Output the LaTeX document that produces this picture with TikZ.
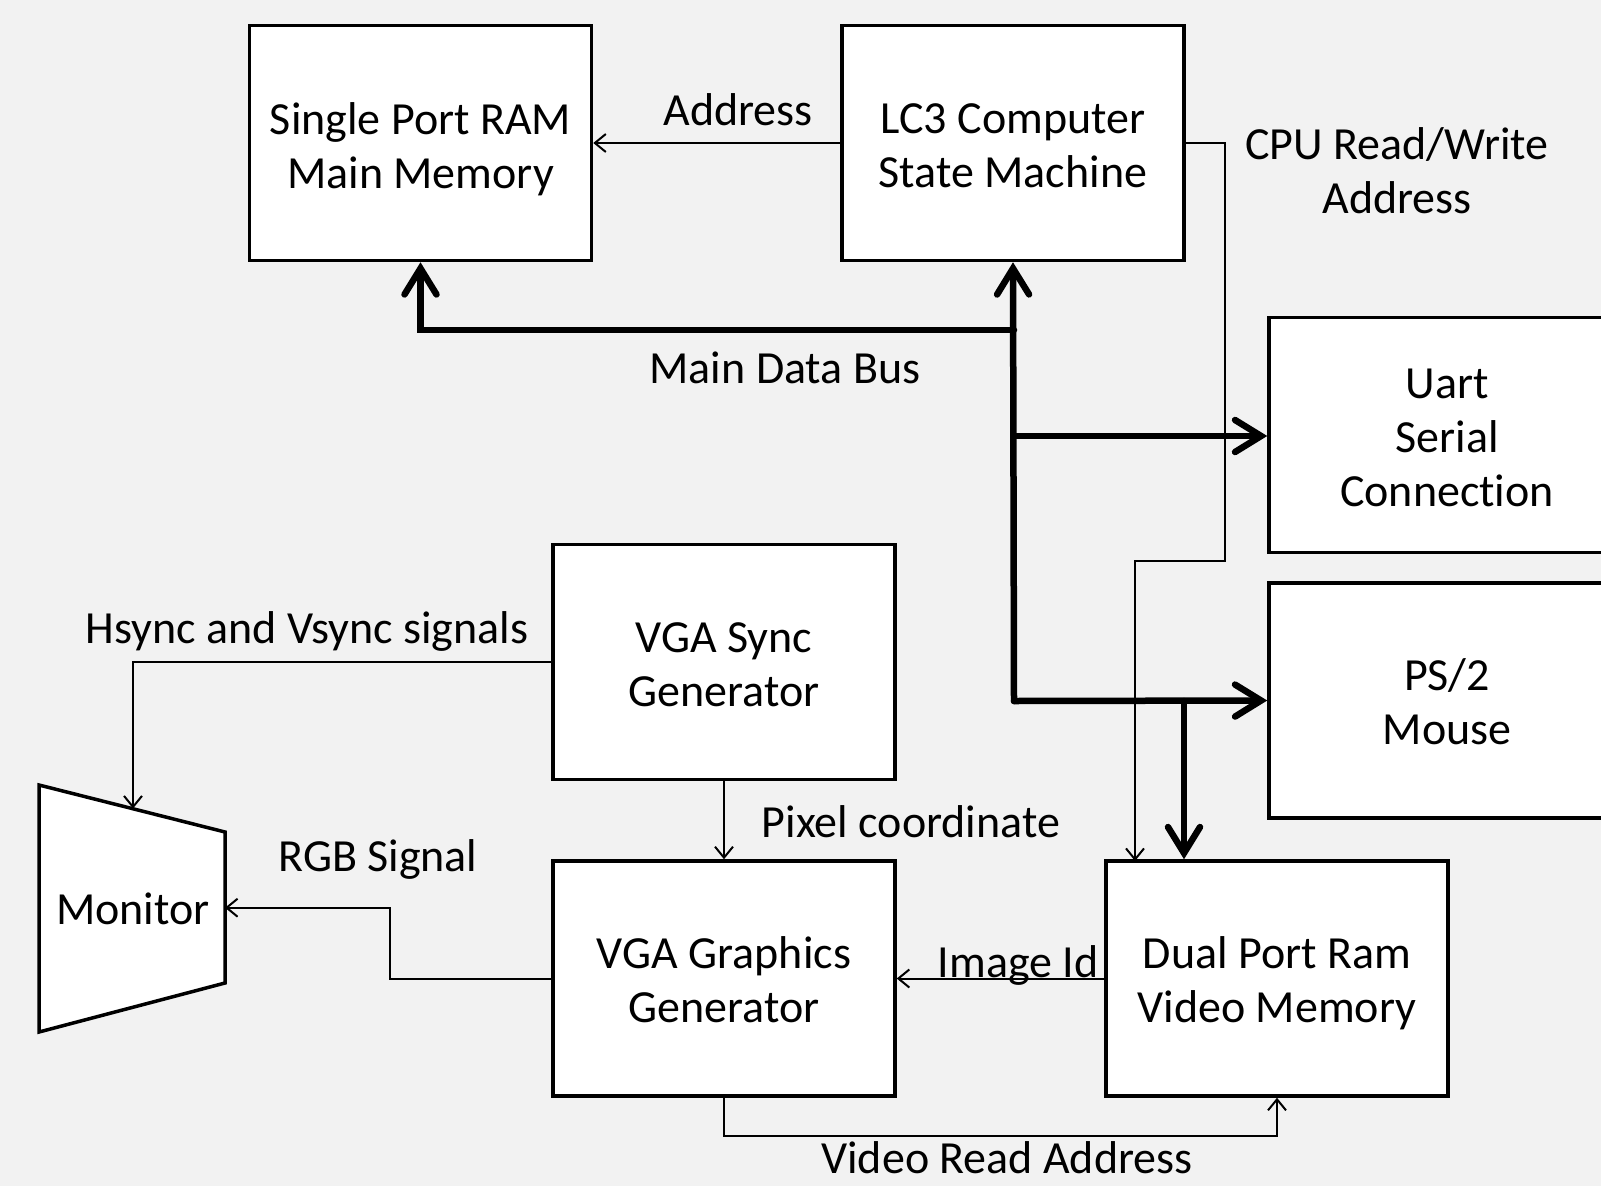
\documentclass[tikz,border=0pt]{standalone}
\usepackage{fontspec}
\setmainfont{Carlito}[Ligatures=NoCommon]
\usetikzlibrary{arrows.meta}
\definecolor{bgc}{HTML}{F2F2F2}
\begin{document}
\begin{tikzpicture}[x=1pt,y=-1pt,
  every node/.style={font=\fontsize{46}{54}\selectfont},
  blk/.style={draw, fill=white, line width=3.5pt, minimum width=342pt, minimum height=235pt, inner sep=0pt},
  txt/.style={inner sep=0pt, align=center},
  sig/.style={line width=2pt, -{Straight Barb[length=11pt,width=18pt]}},
  bus/.style={line width=6.5pt, line cap=round, -{Straight Barb[length=26pt,width=32pt,line cap=round]}},
  lbl/.style={inner sep=0pt}]
\fill[bgc] (0,0) rectangle (1601,1186);
\useasboundingbox (0,0) rectangle (1601,1186);
% boxes
\node[blk, label={[txt, name=ramt, yshift=-6pt]center:{Single Port RAM\\Main Memory}}] (ram) at (420.5,143) {};
\node[blk, label={[txt, name=lc3t, yshift=-3pt]center:{LC3 Computer\\State Machine}}] (lc3) at (1013,143) {};
\node[blk, minimum width=356pt, label={[txt, name=uartt, yshift=-2.5pt]center:{Uart\\Serial\\Connection}}] (uart) at (1447,435) {};
\node[blk, minimum width=356pt, label={[txt, name=ps2t, yshift=-1pt]center:{PS/2\\Mouse}}] (ps2) at (1447,700.5) {};
\node[blk, label={[txt, name=vgast, yshift=-2.5pt]center:{VGA Sync\\Generator}}] (vgas) at (724,662) {};
\node[blk, label={[txt, name=vgagt, yshift=-1pt]center:{VGA Graphics\\Generator}}] (vgag) at (724,978.5) {};
\node[blk, label={[txt, name=dualt, yshift=-4.5pt]center:{Dual Port Ram\\Video Memory}}] (dual) at (1277,978.5) {};
% monitor
\draw[fill=white, line width=3.5pt, line join=miter] (39,785) -- (225,832) -- (225,983) -- (39,1032) -- cycle;
\node (mon) at (133,909) {Monitor};
\coordinate (montop) at (133,808.5);
\coordinate (monright) at (225,907.7);
% bus junctions
\coordinate (j1) at (1014,330);
\coordinate (j2) at (1014,436);
\coordinate (j3) at (1014,701);
\coordinate (j4) at (1184,701);
% thin connectors
\draw[sig] (lc3.west) -- (ram.east);
\draw[sig] (lc3.east) -- (1225,143) -- (1225,560.5) -- (1135,560.5) -- (1135,861);
\draw[sig] (vgas.west) -| (montop);
\draw[sig] (vgas.south) -- (vgag.north);
\draw[sig] (vgag.west) -- (390,978.5) -- (390,907.7) -- (monright);
\draw[sig] (dual.west) -- (vgag.east);
\draw[sig] (vgag.south) -- (724,1136) -| (dual.south);
% bus
\draw[bus] (j1) -| (ram.south);
\draw[bus] (j3) -- (lc3.south);
\draw[bus] (j2) -- (uart.west |- j2);
\draw[bus] (j3) -- (ps2.west);
\draw[bus] (j4) -- (j4 |- dual.north);
% labels
\node[lbl] (laddr) at (738,110) {Address};
\node[lbl, align=center] (lcpu) at (1397,171) {CPU Read/Write\\Address};
\node[lbl] (lbus) at (785,368) {Main Data Bus};
\node[lbl] (lhs) at (307,631) {Hsync and Vsync signals};
\node[lbl] (lpix) at (911,822) {Pixel coordinate};
\node[lbl] (lrgb) at (378,859) {RGB Signal};
\node[lbl] (limg) at (1018,965) {Image Id};
\node[lbl, anchor=base] (lvid) at (1007,1173) {Video Read Address};
\end{tikzpicture}
\end{document}
